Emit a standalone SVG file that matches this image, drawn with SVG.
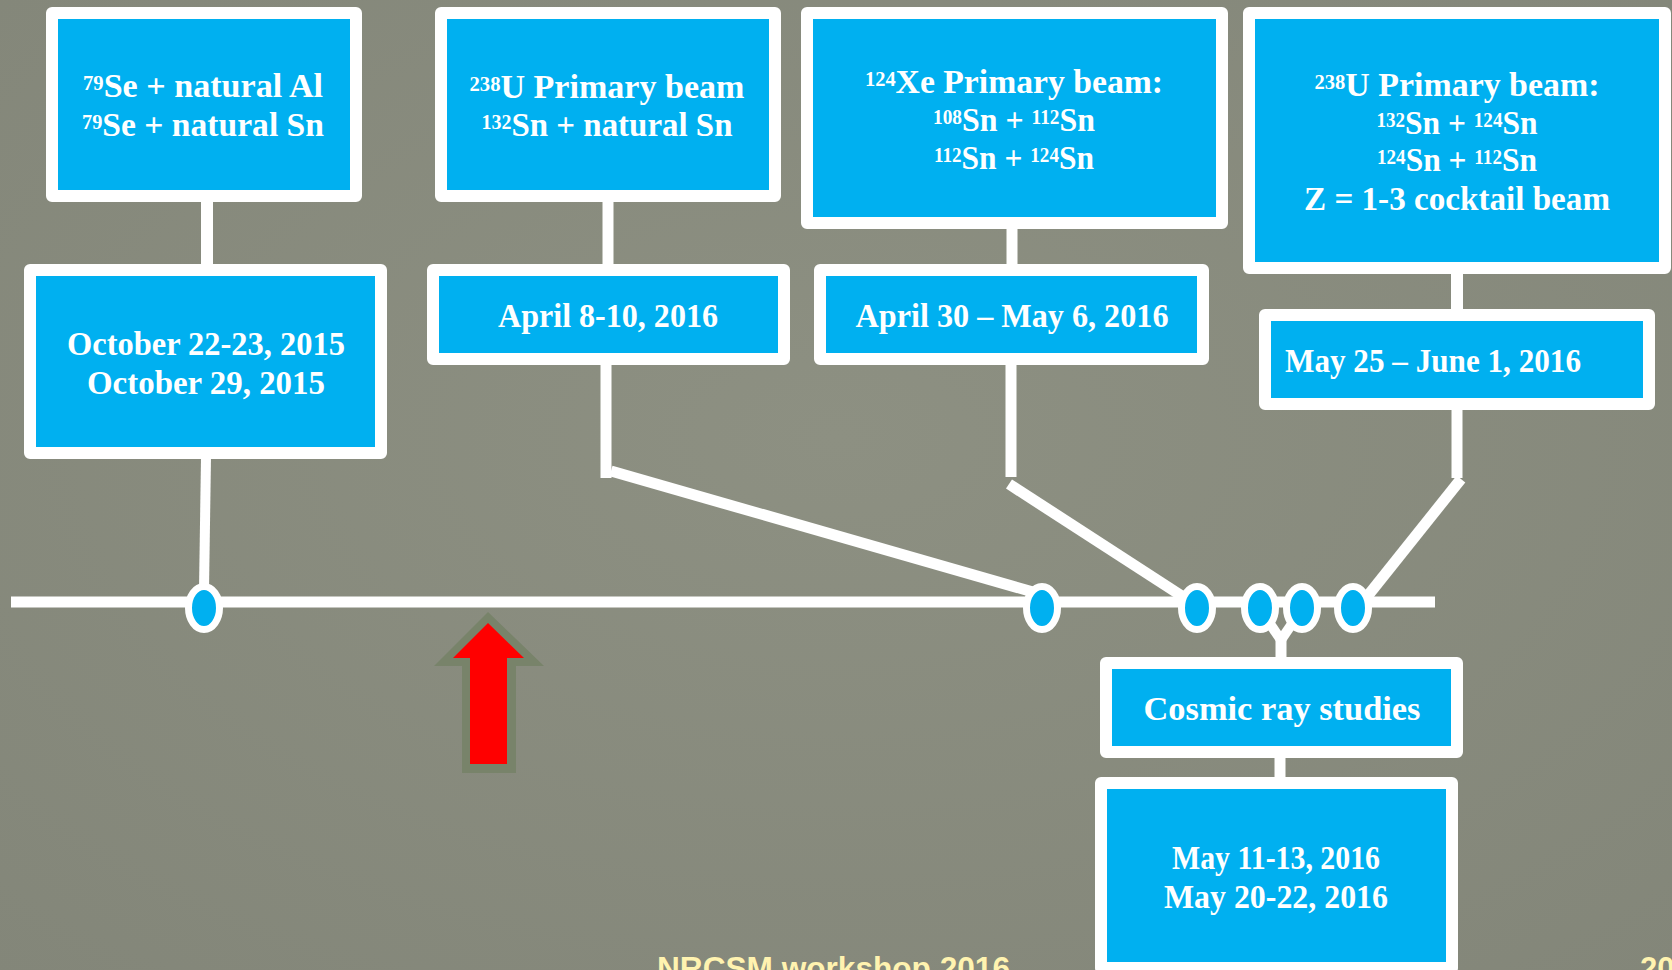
<svg xmlns="http://www.w3.org/2000/svg" width="1672" height="970" viewBox="0 0 1672 970">
<defs>
<radialGradient id="bg" cx="50%" cy="45%" r="75%">
<stop offset="0" stop-color="#8D9082"/>
<stop offset="1" stop-color="#838679"/>
</radialGradient>
</defs>
<style>
.box{fill:#00B0F0;stroke:#ffffff;stroke-width:12;stroke-linejoin:round}
.t{font-family:"Liberation Serif","Times New Roman",serif;font-weight:bold;font-size:33px;fill:#ffffff;text-anchor:middle}
.ts{font-family:"Liberation Serif","Times New Roman",serif;font-weight:bold;font-size:33px;fill:#ffffff}
.sup{font-size:20px}
.ln{stroke:#ffffff;stroke-width:11;fill:none;stroke-linecap:butt}
.mk{fill:#00B0F0;stroke:#ffffff;stroke-width:7}
.foot{font-family:"Liberation Sans",Arial,sans-serif;font-weight:bold;font-size:31px;fill:#FFF3B0}
</style>
<rect x="0" y="0" width="1672" height="970" fill="url(#bg)"/>

<g id="connectors">
<line class="ln" x1="11" y1="602" x2="1435" y2="602"/>
<line class="ln" x1="207" y1="200" x2="207" y2="266" style="stroke-width:12"/>
<line class="ln" x1="206" y1="457" x2="204" y2="590" style="stroke-width:10"/>
<line class="ln" x1="608" y1="200" x2="608" y2="266"/>
<line class="ln" x1="606" y1="363" x2="606" y2="478"/>
<line class="ln" x1="611" y1="471" x2="1040" y2="594"/>
<line class="ln" x1="1012" y1="227" x2="1012" y2="266"/>
<line class="ln" x1="1011" y1="363" x2="1011" y2="477"/>
<line class="ln" x1="1009" y1="484" x2="1185" y2="598"/>
<line class="ln" x1="1457" y1="271" x2="1457" y2="311" style="stroke-width:12"/>
<line class="ln" x1="1457" y1="408" x2="1457" y2="478"/>
<line class="ln" x1="1461" y1="479" x2="1362" y2="603"/>
<line class="ln" x1="1262" y1="612" x2="1281" y2="640" style="stroke-width:10"/>
<line class="ln" x1="1300" y1="612" x2="1281" y2="640" style="stroke-width:10"/>
<line class="ln" x1="1281" y1="636" x2="1281" y2="660"/>
<line class="ln" x1="1280" y1="755" x2="1280" y2="785"/>
</g>

<g id="markers">
<ellipse class="mk" cx="204" cy="608" rx="15.5" ry="21.5"/>
<ellipse class="mk" cx="1042" cy="608" rx="15.5" ry="21.5"/>
<ellipse class="mk" cx="1197" cy="608" rx="15.5" ry="21.5"/>
<ellipse class="mk" cx="1260" cy="608" rx="15.5" ry="21.5"/>
<ellipse class="mk" cx="1302" cy="608" rx="15.5" ry="21.5"/>
<ellipse class="mk" cx="1353" cy="608" rx="15.5" ry="21.5"/>
</g>

<g id="arrow">
<polygon points="488,612 544,666 516,666 516,773 462,773 462,666 434,666" fill="#78836A"/>
<polygon points="488,623 524,658 507,658 507,764 470,764 470,658 453,658" fill="#FF0000"/>
</g>

<g id="box-se">
<rect class="box" x="52" y="13" width="304" height="183"/>
<text class="t" x="203" y="97" textLength="240" lengthAdjust="spacingAndGlyphs"><tspan class="sup" dy="-7">79</tspan><tspan dy="7">Se + natural Al</tspan></text>
<text class="t" x="203" y="136" textLength="242" lengthAdjust="spacingAndGlyphs"><tspan class="sup" dy="-7">79</tspan><tspan dy="7">Se + natural Sn</tspan></text>
</g>

<g id="box-oct">
<rect class="box" x="30" y="270" width="351" height="183"/>
<text class="t" x="206" y="355" textLength="278" lengthAdjust="spacingAndGlyphs">October 22-23, 2015</text>
<text class="t" x="206" y="394" textLength="238" lengthAdjust="spacingAndGlyphs">October 29, 2015</text>
</g>

<g id="box-u1">
<rect class="box" x="441" y="13" width="334" height="183"/>
<text class="t" x="607" y="98" textLength="275" lengthAdjust="spacingAndGlyphs"><tspan class="sup" dy="-7">238</tspan><tspan dy="7">U Primary beam</tspan></text>
<text class="t" x="607" y="136" textLength="251" lengthAdjust="spacingAndGlyphs"><tspan class="sup" dy="-7">132</tspan><tspan dy="7">Sn + natural Sn</tspan></text>
</g>

<g id="box-apr8">
<rect class="box" x="433" y="270" width="351" height="89"/>
<text class="t" x="608" y="327" textLength="220" lengthAdjust="spacingAndGlyphs">April 8-10, 2016</text>
</g>

<g id="box-xe">
<rect class="box" x="807" y="13" width="415" height="210"/>
<text class="t" x="1014" y="93" textLength="298" lengthAdjust="spacingAndGlyphs"><tspan class="sup" dy="-7">124</tspan><tspan dy="7">Xe Primary beam:</tspan></text>
<text class="t" x="1014" y="131" textLength="162" lengthAdjust="spacingAndGlyphs"><tspan class="sup" dy="-7">108</tspan><tspan dy="7">Sn + </tspan><tspan class="sup" dy="-7">112</tspan><tspan dy="7">Sn</tspan></text>
<text class="t" x="1014" y="169" textLength="160" lengthAdjust="spacingAndGlyphs"><tspan class="sup" dy="-7">112</tspan><tspan dy="7">Sn + </tspan><tspan class="sup" dy="-7">124</tspan><tspan dy="7">Sn</tspan></text>
</g>

<g id="box-apr30">
<rect class="box" x="820" y="270" width="383" height="89"/>
<text class="t" x="1012" y="327" textLength="313" lengthAdjust="spacingAndGlyphs">April 30 – May 6, 2016</text>
</g>

<g id="box-u2">
<rect class="box" x="1249" y="13" width="416" height="255"/>
<text class="t" x="1457" y="96" textLength="285" lengthAdjust="spacingAndGlyphs"><tspan class="sup" dy="-7">238</tspan><tspan dy="7">U Primary beam:</tspan></text>
<text class="t" x="1457" y="134" textLength="161" lengthAdjust="spacingAndGlyphs"><tspan class="sup" dy="-7">132</tspan><tspan dy="7">Sn + </tspan><tspan class="sup" dy="-7">124</tspan><tspan dy="7">Sn</tspan></text>
<text class="t" x="1457" y="171" textLength="160" lengthAdjust="spacingAndGlyphs"><tspan class="sup" dy="-7">124</tspan><tspan dy="7">Sn + </tspan><tspan class="sup" dy="-7">112</tspan><tspan dy="7">Sn</tspan></text>
<text class="t" x="1457" y="210" textLength="306" lengthAdjust="spacingAndGlyphs">Z = 1-3 cocktail beam</text>
</g>

<g id="box-may25">
<rect class="box" x="1265" y="315" width="384" height="89"/>
<text class="ts" x="1285" y="372" textLength="296" lengthAdjust="spacingAndGlyphs">May 25 – June 1, 2016</text>
</g>

<g id="box-cosmic">
<rect class="box" x="1106" y="663" width="351" height="89"/>
<text class="t" x="1282" y="720" textLength="277" lengthAdjust="spacingAndGlyphs">Cosmic ray studies</text>
</g>

<g id="box-may11">
<rect class="box" x="1101" y="783" width="351" height="185"/>
<text class="t" x="1276" y="869" textLength="208" lengthAdjust="spacingAndGlyphs">May 11-13, 2016</text>
<text class="t" x="1276" y="908" textLength="224" lengthAdjust="spacingAndGlyphs">May 20-22, 2016</text>
</g>

<g id="footer">
<text class="foot" x="657" y="979" textLength="353" lengthAdjust="spacingAndGlyphs">NRCSM workshop 2016</text>
<text class="foot" x="1640" y="979">20</text>
</g>
</svg>
